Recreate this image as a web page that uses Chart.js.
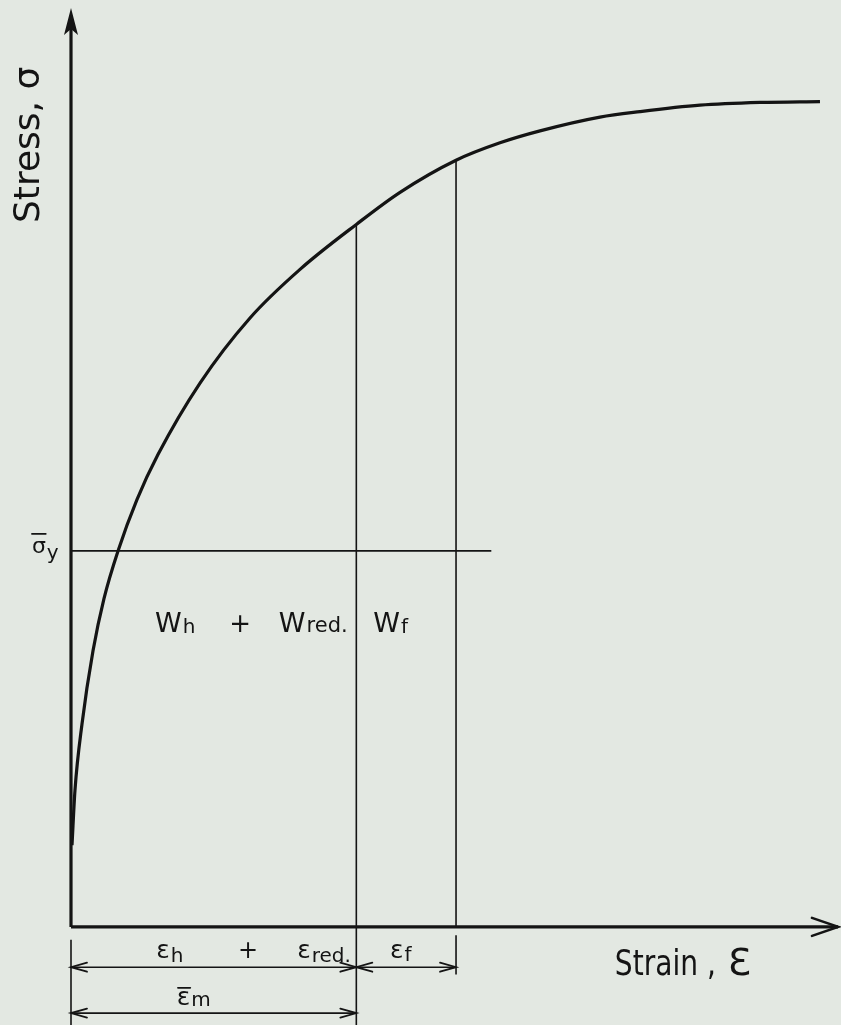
<!DOCTYPE html>
<html>
<head>
<meta charset="utf-8">
<title>Stress-strain: work of deformation</title>
<script src="https://cdn.jsdelivr.net/npm/chart.js@4.4.1/dist/chart.umd.min.js"></script>
<style>
  html, body { margin: 0; background: #e3e8e2; }
  #wrap { width: 841px; height: 1025px; position: relative; }
</style>
</head>
<body>
<div id="wrap"><canvas id="chart"></canvas></div>
<script>
// flow curve, strain vs stress (arbitrary units)
const strain = [0.13, 0.52, 1.43, 2.87, 4.3, 6.13, 8.6, 11.34, 16.82, 23.34, 29.86, 37.2, 42.9, 50.2, 55.93, 61.15, 68.97, 74.19, 82.01, 89.83, 97.65];
const stress = [8.9, 14.9, 22.1, 30.1, 35.8, 41.0, 46.6, 51.5, 59.3, 66.4, 71.7, 76.6, 80.1, 83.6, 85.5, 86.8, 88.3, 88.9, 89.6, 89.9, 90.0];

// mean yield stress and the strain marks
const sigmaY = 41.0;
const sigmaYEnd = 54.8;
const epsM = 37.2;   // mean strain = εh + εred
const epsF = 50.2;   // mean strain + εf

// dimension lines under the strain axis
const dimFrom = [0, epsM, 0];
const dimTo = [epsM, epsF, epsM];
const dimLevel = [-4.4, -4.4, -9.4];

const xMax = 100, yMin = -10.7, yMax = 100.2;
const ink = '#141414';

const stressAt = e => stress[strain.indexOf(e)];
const seg = (x1, y1, x2, y2) => [{ x: x1, y: y1 }, { x: x2, y: y2 }];

function lineSet(data, width) {
    return { data, borderColor: ink, borderWidth: width, pointRadius: 0, fill: false, clip: false };
}

const datasets = [
    lineSet(seg(0, 0, 0, yMax - 1), 3.2),
    lineSet(seg(0, 0, xMax, 0), 3.2),
    { ...lineSet(strain.map((e, i) => ({ x: e, y: stress[i] })), 3.2), cubicInterpolationMode: 'monotone' },
    lineSet(seg(0, sigmaY, sigmaYEnd, sigmaY), 1.6),
    lineSet(seg(epsM, yMin, epsM, stressAt(epsM)), 1.6),
    lineSet(seg(epsF, 0, epsF, stressAt(epsF)), 1.6),
    lineSet(seg(0, -1.4, 0, yMin), 1.6),
    lineSet(seg(epsF, -0.9, epsF, -5.2), 1.6),
    ...dimFrom.map((a, i) => lineSet(seg(a, dimLevel[i], dimTo[i], dimLevel[i]), 1.6))
];

function vee(ctx, tx, ty, dir, len, half) {
    ctx.beginPath();
    ctx.moveTo(tx - dir * len, ty - half);
    ctx.lineTo(tx, ty);
    ctx.lineTo(tx - dir * len, ty + half);
    ctx.stroke();
}

function word(ctx, s, x, y, size, squeeze = 1) {
    ctx.font = `${size}px "DejaVu Sans"`;
    ctx.save();
    ctx.translate(x, y);
    ctx.scale(squeeze, 1);
    ctx.fillText(s, 0, 0);
    ctx.restore();
    return ctx.measureText(s).width * squeeze;
}

function subLabel(ctx, main, sub, x, y, size, subSize, drop = 0) {
    const w = word(ctx, main, x, y, size);
    word(ctx, sub, x + w + 1, y + drop, subSize);
    return w;
}

function bar(ctx, x1, x2, y) {
    ctx.beginPath();
    ctx.moveTo(x1, y);
    ctx.lineTo(x2, y);
    ctx.stroke();
}

const annotate = {
    id: 'annotate',
    afterDatasetsDraw(chart) {
        const { ctx, scales: { x, y } } = chart;
        const px = v => x.getPixelForValue(v);
        const py = v => y.getPixelForValue(v);
        const ox = px(0), oy = py(0);
        ctx.save();
        ctx.strokeStyle = ink;
        ctx.fillStyle = ink;
        ctx.lineCap = 'round';

        // axis arrowheads
        const top = py(yMax);
        ctx.beginPath();
        ctx.moveTo(ox, top);
        ctx.lineTo(ox - 7, top + 27);
        ctx.lineTo(ox, top + 21);
        ctx.lineTo(ox + 7, top + 27);
        ctx.closePath();
        ctx.fill();
        ctx.lineWidth = 2.6;
        vee(ctx, px(xMax), oy, 1, 26, 9);

        // dimension arrowheads
        ctx.lineWidth = 1.8;
        dimFrom.forEach((a, i) => {
            vee(ctx, px(a), py(dimLevel[i]), -1, 16, 4.5);
            vee(ctx, px(dimTo[i]), py(dimLevel[i]), 1, 16, 4.5);
        });

        ctx.textBaseline = 'alphabetic';
        ctx.textAlign = 'left';

        // work terms
        subLabel(ctx, 'W', 'h', px(10.95), py(32.2), 27, 20, 1);
        word(ctx, '+', px(21.8) - 9, py(32.2), 26);
        subLabel(ctx, 'W', 'red.', px(27.1), py(32.2), 27, 21);
        subLabel(ctx, 'W', 'f', px(39.4), py(32.2), 27, 20, 1);

        // strain terms
        subLabel(ctx, 'ε', 'h', px(11.1), py(-3.4), 25, 20, 4);
        word(ctx, '+', px(22.8) - 8, py(-3.4), 24);
        subLabel(ctx, 'ε', 'red.', px(29.5), py(-3.4), 25, 20, 4);
        subLabel(ctx, 'ε', 'f', px(41.6), py(-3.4), 25, 20, 3);

        // mean strain and mean yield stress, both with overbars
        ctx.lineWidth = 1.6;
        const mx = px(13.8), my = py(-8.5);
        const ew = subLabel(ctx, 'ε', 'm', mx, my, 25, 20, 1);
        bar(ctx, mx + 1, mx + ew, my - 17);

        const sx = px(-5.1), sy = py(sigmaY) + 2;
        const sw = subLabel(ctx, 'σ', 'y', sx, sy, 22, 20, 6);
        bar(ctx, sx, sx + sw, sy - 19);

        // axis titles
        const tw = word(ctx, 'Strain ,', px(70.9), py(-5.2), 36, 0.78);
        word(ctx, 'Ɛ', px(70.9) + tw + 12, py(-5.2), 38);

        ctx.translate(ox - 32, py(93.8));
        ctx.rotate(-Math.PI / 2);
        ctx.textAlign = 'right';
        ctx.font = '36px "DejaVu Sans"';
        ctx.fillText('Stress, σ', 0, 0);
        ctx.restore();
    }
};

new Chart(document.getElementById('chart'), {
    type: 'line',
    data: { datasets },
    options: {
        responsive: true,
        maintainAspectRatio: false,
        animation: false,
        devicePixelRatio: 1,
        layout: { padding: { left: 71, right: 3, top: 8, bottom: 0 } },
        plugins: { legend: { display: false }, tooltip: { enabled: false } },
        scales: {
            x: { type: 'linear', min: 0, max: xMax, display: false },
            y: { type: 'linear', min: yMin, max: yMax, display: false }
        }
    },
    plugins: [annotate]
});
</script>
</body>
</html>
